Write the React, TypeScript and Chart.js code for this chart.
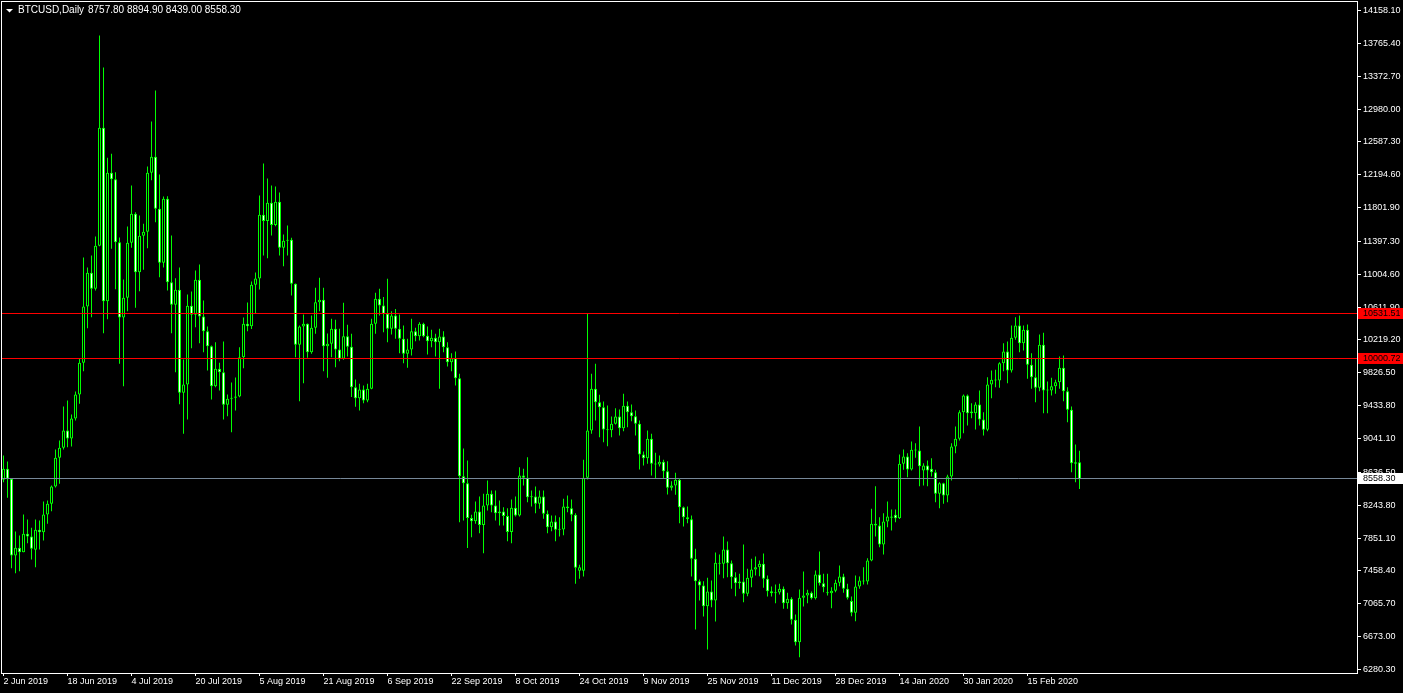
import React, { useEffect, useRef } from "react";
import { Chart, registerables } from "chart.js";

Chart.register(...registerables);

const symbolTitle = "BTCUSD,Daily";

const opens = [
  8548, 8679, 8560, 7643, 7735, 7682, 7902, 7870, 7711, 7950,
  7921, 8133, 8261, 8468, 8811, 8930, 9137, 9041, 9281, 9568,
  9946, 10619, 11023, 10831, 11345, 12756, 10682, 12218, 12142, 11388,
  10488, 10724, 11381, 11727, 11029, 11465, 11513, 12218, 12410, 11788,
  11142, 11907, 10910, 10639, 10819, 9588, 9687, 10627, 10520, 10938,
  10500, 10324, 10145, 9667, 9875, 9834, 9444, 9516, 9528, 9544,
  10013, 10412, 10383, 10879, 10954, 11715, 11643, 11859, 11595, 11871,
  11321, 11405, 11417, 10890, 10162, 10380, 10412, 10073, 10364, 10670,
  10699, 10145, 10174, 10352, 10105, 9994, 10265, 10138, 9655, 9523,
  9627, 9496, 9635, 10412, 10712, 10631, 10532, 10352, 10511, 10352,
  10233, 10054, 10105, 10325, 10264, 10412, 10270, 10205, 10245, 10193,
  10261, 10133, 9954, 10001, 9762, 8591, 8507, 8091, 8053, 8168,
  8007, 8240, 8380, 8240, 8168, 8168, 8115, 7925, 8213, 8121,
  8599, 8571, 8340, 8348, 8260, 8348, 8141, 7981, 8050, 7950,
  7954, 8228, 8208, 8129, 7460, 7460, 8572, 9137, 9635, 9475,
  9416, 9149, 9141, 9217, 9304, 9165, 9432, 9356, 9308, 9217,
  8850, 8806, 9038, 8739, 8730, 8763, 8650, 8452, 8480, 8548,
  8220, 8101, 8077, 7603, 7335, 7284, 7037, 7212, 7105, 7555,
  7544, 7714, 7551, 7383, 7312, 7332, 7185, 7376, 7475, 7503,
  7544, 7364, 7216, 7192, 7200, 7244, 7073, 7125, 6874, 6606,
  7137, 7165, 7197, 7132, 7416, 7312, 7197, 7192, 7221, 7316,
  7392, 7244, 7100, 6958, 7272, 7344, 7332, 7584, 8022, 8001,
  7774, 8049, 8109, 8129, 8088, 8739, 8826, 8671, 8906, 8898,
  8659, 8719, 8680, 8639, 8380, 8507, 8360, 8587, 8946, 9038,
  9356, 9555, 9364, 9344, 9448, 9269, 9145, 9687, 9743, 9735,
  9942, 10082, 9854, 10245, 10392, 10181, 10341, 9923, 9774, 9648,
  10162, 9623, 9615, 9667, 9714, 9887, 9607, 9384, 8740, 8757.8,
];

const highs = [
  8838, 8766, 8561, 7930, 7882, 8133, 8073, 7974, 8073, 8061,
  8288, 8300, 8480, 8910, 9018, 9424, 9496, 9328, 9603, 9994,
  11205, 11086, 11229, 11456, 13859, 13477, 12399, 12447, 12225, 11444,
  10942, 11576, 12065, 11747, 11707, 11608, 12293, 12831, 13202, 12198,
  11935, 11938, 11468, 10958, 11086, 9985, 10762, 10799, 11050, 11122,
  10691, 10380, 10153, 10193, 9946, 10201, 9567, 9711, 9771, 10133,
  10487, 10667, 10918, 11026, 11946, 12329, 12150, 12065, 12053, 11982,
  11480, 11588, 11441, 10893, 10392, 10523, 10415, 10511, 10844, 10962,
  10844, 10297, 10472, 10460, 10352, 10663, 10400, 10293, 9747, 9695,
  9675, 9695, 10472, 10784, 10832, 10734, 10951, 10563, 10591, 10523,
  10392, 10233, 10472, 10364, 10432, 10425, 10380, 10341, 10293, 10352,
  10324, 10193, 10061, 10081, 9815, 8922, 8779, 8129, 8288, 8348,
  8380, 8539, 8420, 8420, 8300, 8220, 8208, 8312, 8348, 8698,
  8679, 8818, 8420, 8468, 8420, 8420, 8181, 8121, 8121, 8101,
  8321, 8360, 8312, 8149, 7531, 8787, 10531.51, 9815, 9934, 9564,
  9484, 9436, 9304, 9404, 9388, 9576, 9484, 9448, 9376, 9257,
  8886, 9137, 9098, 8870, 8838, 8787, 8770, 8531, 8631, 8560,
  8228, 8228, 8121, 7723, 7356, 7334, 7376, 7344, 7679, 7655,
  7870, 7810, 7584, 7443, 7424, 7774, 7484, 7603, 7631, 7584,
  7667, 7404, 7272, 7296, 7304, 7272, 7197, 7144, 6937, 7236,
  7451, 7233, 7213, 7463, 7690, 7424, 7424, 7264, 7352, 7523,
  7424, 7304, 7153, 7404, 7392, 7503, 7610, 8201, 8471, 8101,
  8148, 8288, 8193, 8193, 8850, 8910, 8866, 9006, 8985, 9185,
  8746, 8779, 8806, 8667, 8519, 8512, 8607, 8985, 9185, 9380,
  9567, 9567, 9463, 9475, 9615, 9356, 9774, 9854, 9863, 9954,
  10181, 10201, 10392, 10492, 10511, 10392, 10404, 10061, 9994, 10285,
  10305, 9723, 9767, 9743, 10022, 10034, 9655, 9424, 8970, 8894.9,
];

const lows = [
  8519, 8332, 7491, 7431, 7455, 7680, 7790, 7595, 7503, 7714,
  7822, 8022, 8172, 8456, 8500, 8910, 8937, 8946, 9257, 9456,
  9846, 10360, 10491, 10810, 11340, 10300, 10467, 11309, 10826, 9934,
  9666, 10563, 11321, 10603, 10802, 11058, 11316, 12130, 11628, 10970,
  11086, 10810, 10300, 9834, 9451, 9097, 9269, 10121, 10372, 10181,
  10073, 9854, 9508, 9655, 9615, 9269, 9308, 9116, 9376, 9535,
  9882, 10325, 10349, 10533, 10822, 11229, 11197, 11468, 11580, 11229,
  11101, 11229, 10750, 10013, 9487, 9703, 10006, 10054, 10293, 10563,
  9846, 9767, 10013, 9894, 9965, 9982, 10022, 9536, 9421, 9376,
  9463, 9475, 9630, 10293, 10511, 10312, 10193, 10285, 10233, 10061,
  9942, 9887, 10034, 10205, 10213, 10252, 10046, 10133, 10022, 9635,
  10073, 9902, 9846, 9675, 8041, 8061, 7733, 7862, 8022, 7909,
  7670, 8181, 8160, 8061, 8001, 8001, 7812, 7788, 8109, 8109,
  8479, 8280, 8228, 8148, 8201, 8081, 7909, 7933, 7814, 7870,
  7885, 8160, 8053, 7304, 7364, 7392, 8550, 9098, 9257, 9057,
  8997, 8949, 9057, 9210, 9077, 9129, 9177, 9248, 9077, 8671,
  8719, 8739, 8599, 8560, 8707, 8560, 8372, 8420, 8368, 8029,
  7990, 8029, 7392, 6758, 7105, 6913, 6519, 7025, 6854, 7416,
  7371, 7383, 7244, 7156, 7244, 7085, 7156, 7264, 7404, 7395,
  7256, 7153, 7153, 7073, 7176, 7005, 7005, 6818, 6567, 6427,
  7033, 7073, 7117, 7117, 7284, 7204, 7165, 7013, 7204, 7276,
  7197, 7117, 6917, 6857, 7244, 7296, 7296, 7575, 7870, 7742,
  7655, 7981, 7942, 8041, 8080, 8667, 8579, 8659, 8811, 8471,
  8479, 8471, 8587, 8280, 8208, 8260, 8280, 8539, 8866, 9018,
  9105, 9197, 9284, 9149, 9197, 9077, 9129, 9523, 9655, 9648,
  9846, 9703, 9830, 10221, 10073, 10093, 9755, 9635, 9475, 9607,
  9344, 9344, 9555, 9576, 9635, 9487, 9236, 8639, 8519, 8439.0,
];

const closes = [
  8679, 8560, 7643, 7735, 7682, 7902, 7870, 7723, 7950, 7921,
  8133, 8261, 8468, 8811, 8930, 9137, 9041, 9281, 9568, 9946,
  10619, 11023, 10831, 11345, 12756, 10682, 12218, 12142, 11388, 10488,
  10724, 11381, 11727, 11029, 11465, 11513, 12218, 12410, 11788, 11142,
  11907, 10910, 10639, 10819, 9588, 9687, 10627, 10520, 10938, 10500,
  10324, 10145, 9667, 9875, 9834, 9444, 9516, 9528, 9544, 10013,
  10412, 10383, 10879, 10954, 11715, 11643, 11859, 11595, 11871, 11321,
  11405, 11417, 10890, 10162, 10380, 10412, 10073, 10364, 10670, 10699,
  10145, 10174, 10352, 10105, 9994, 10265, 10138, 9655, 9523, 9627,
  9496, 9635, 10412, 10712, 10631, 10532, 10352, 10511, 10352, 10233,
  10054, 10105, 10325, 10264, 10412, 10264, 10205, 10245, 10193, 10261,
  10133, 9954, 10001, 9762, 8591, 8507, 8091, 8053, 8168, 8007,
  8240, 8380, 8240, 8148, 8148, 8115, 7925, 8213, 8121, 8599,
  8571, 8340, 8348, 8260, 8348, 8141, 7981, 8050, 7950, 7954,
  8228, 8208, 8129, 7496, 7503, 8572, 9137, 9635, 9475, 9416,
  9149, 9141, 9217, 9304, 9165, 9432, 9356, 9308, 9217, 8850,
  8806, 9038, 8739, 8730, 8763, 8650, 8452, 8480, 8548, 8220,
  8101, 8077, 7603, 7335, 7284, 7037, 7212, 7105, 7555, 7544,
  7714, 7551, 7383, 7312, 7332, 7185, 7376, 7475, 7503, 7544,
  7364, 7216, 7192, 7200, 7244, 7073, 7125, 6874, 6606, 7137,
  7165, 7197, 7132, 7416, 7312, 7264, 7192, 7221, 7316, 7392,
  7244, 7137, 6958, 7272, 7344, 7332, 7584, 8022, 8001, 7774,
  8049, 8109, 8093, 8088, 8739, 8826, 8671, 8906, 8898, 8710,
  8719, 8659, 8639, 8380, 8507, 8360, 8587, 8946, 9038, 9356,
  9555, 9344, 9344, 9448, 9269, 9145, 9687, 9743, 9735, 9942,
  10082, 9854, 10245, 10392, 10181, 10341, 9923, 9774, 9648, 10162,
  9615, 9615, 9667, 9714, 9887, 9607, 9384, 8745, 8758, 8558.3,
];

const priceTickValues = [
  14158.1, 13765.4, 13372.7, 12980.0, 12587.3, 12194.6, 11801.9, 11397.3,
  11004.6, 10611.9, 10219.2, 9826.5, 9433.8, 9041.1, 8636.5, 8243.8,
  7851.1, 7458.4, 7065.7, 6673.0, 6280.3,
];

const dateTickBars = [0, 16, 32, 48, 64, 80, 96, 112, 128, 144, 160, 176, 192, 208, 224, 240, 256];
const dateTickLabels = [
  "2 Jun 2019", "18 Jun 2019", "4 Jul 2019", "20 Jul 2019", "5 Aug 2019",
  "21 Aug 2019", "6 Sep 2019", "22 Sep 2019", "8 Oct 2019", "24 Oct 2019",
  "9 Nov 2019", "25 Nov 2019", "11 Dec 2019", "28 Dec 2019", "14 Jan 2020",
  "30 Jan 2020", "15 Feb 2020",
];

const levelPrices = [10531.51, 10000.72];
const bidPrice = 8558.3;

// view window (bars / price) of the chart
const X_MIN = -0.375;
const X_MAX = 338.375;
const Y_MIN = 6237.9;
const Y_MAX = 14259.7;

const FONT_FAMILY = '"Liberation Sans", Arial, sans-serif';

const decorPlugin = {
  id: "mt4decor",
  beforeDraw(chart: any) {
    const ctx = chart.ctx;
    ctx.save();
    ctx.fillStyle = "#000000";
    ctx.fillRect(0, 0, chart.width, chart.height);
    ctx.restore();
  },
  afterDatasetsDraw(chart: any) {
    const ctx = chart.ctx;
    const area = chart.chartArea;
    const ys = chart.scales.y;
    ctx.save();
    ctx.lineWidth = 1;
    const drawH = (p: number, color: string) => {
      const py = Math.floor(ys.getPixelForValue(p)) + 0.5;
      ctx.strokeStyle = color;
      ctx.beginPath();
      ctx.moveTo(area.left, py);
      ctx.lineTo(area.right, py);
      ctx.stroke();
    };
    levelPrices.forEach((p) => drawH(p, "#ff0000"));
    drawH(bidPrice, "#778899");
    ctx.restore();
  },
  afterDraw(chart: any) {
    const ctx = chart.ctx;
    const area = chart.chartArea;
    const ys = chart.scales.y;
    ctx.save();
    // frame
    ctx.strokeStyle = "#ffffff";
    ctx.lineWidth = 1;
    ctx.strokeRect(area.left - 0.5, area.top - 0.5, area.right - area.left + 1, area.bottom - area.top + 1);

    // price labels on the axis
    ctx.font = `9px ${FONT_FAMILY}`;
    ctx.textBaseline = "middle";
    ctx.textAlign = "left";
    const box = (p: number, bg: string, fg: string) => {
      const py = Math.floor(ys.getPixelForValue(p));
      ctx.fillStyle = bg;
      ctx.fillRect(area.right + 1, py - 5, chart.width - area.right - 1, 11);
      ctx.fillStyle = fg;
      ctx.fillText(p.toFixed(2), area.right + 6, py + 0.5);
    };
    levelPrices.forEach((p) => box(p, "#ff0000", "#000000"));
    box(bidPrice, "#ffffff", "#000000");

    // header
    const last = opens.length - 1;
    ctx.fillStyle = "#ffffff";
    ctx.beginPath();
    ctx.moveTo(6, 9);
    ctx.lineTo(13, 9);
    ctx.lineTo(9.5, 12.5);
    ctx.closePath();
    ctx.fill();
    ctx.font = `10px ${FONT_FAMILY}`;
    ctx.fillText(symbolTitle, 18, 10.5);
    const ohlc = [opens[last], highs[last], lows[last], closes[last]].map((v) => v.toFixed(2)).join(" ");
    ctx.fillText(ohlc, 88, 10.5);
    ctx.restore();
  },
};

export default function App() {
  const ref = useRef<HTMLCanvasElement>(null);

  useEffect(() => {
    document.body.style.margin = "0";
    document.body.style.background = "#000000";
    const canvas = ref.current;
    if (!canvas) return;

    const wickData = highs.map((h, i) => ({ x: i, y: [lows[i], h] }));
    const bodyData = opens.map((o, i) => ({ x: i, y: [o, closes[i]] }));
    const bodyFill = opens.map((o, i) => (closes[i] < o ? "#ffffff" : "#000000"));
    const font = { family: FONT_FAMILY, size: 9 };

    const chart = new Chart(canvas, {
      type: "bar",
      data: {
        datasets: [
          {
            label: "wicks",
            data: wickData as any,
            backgroundColor: "#00ff00",
            borderWidth: 0,
            barThickness: 1,
            grouped: false,
            inflateAmount: 0,
            order: 2,
          } as any,
          {
            label: "bodies",
            data: bodyData as any,
            backgroundColor: bodyFill,
            borderColor: "#00ff00",
            borderWidth: 1,
            borderSkipped: false,
            barThickness: 3,
            grouped: false,
            inflateAmount: 0,
            minBarLength: 1,
            order: 1,
          } as any,
        ],
      },
      options: {
        animation: false,
        responsive: false,
        devicePixelRatio: 1,
        events: [],
        layout: { padding: { left: 2, top: 2, right: 0, bottom: 0 } },
        plugins: { legend: { display: false }, tooltip: { enabled: false } },
        scales: {
          x: {
            type: "linear",
            bounds: "data",
            min: X_MIN,
            max: X_MAX,
            offset: false,
            position: "bottom",
            afterBuildTicks: (s: any) => {
              s.ticks = dateTickBars.map((v) => ({ value: v }));
            },
            afterFit: (s: any) => {
              s.height = 20;
              s.paddingLeft = 0;
              s.paddingRight = 0;
              s.paddingTop = 0;
              s.paddingBottom = 0;
            },
            grid: { display: true, drawOnChartArea: false, drawTicks: true, tickLength: 3, color: "#ffffff", offset: false },
            border: { display: false },
            ticks: {
              autoSkip: false,
              maxRotation: 0,
              minRotation: 0,
              align: "start",
              color: "#ffffff",
              padding: 0,
              font,
              callback: (_v: any, i: number) => dateTickLabels[i] ?? "",
            },
          } as any,
          y: {
            type: "linear",
            bounds: "data",
            position: "right",
            min: Y_MIN,
            max: Y_MAX,
            beginAtZero: false,
            afterBuildTicks: (s: any) => {
              s.ticks = priceTickValues.map((v) => ({ value: v }));
            },
            afterFit: (s: any) => {
              s.width = 46;
              s.paddingLeft = 0;
              s.paddingRight = 0;
              s.paddingTop = 0;
              s.paddingBottom = 0;
            },
            grid: { display: true, drawOnChartArea: false, drawTicks: true, tickLength: 4, color: "#ffffff" },
            border: { display: false },
            ticks: {
              autoSkip: false,
              color: "#ffffff",
              padding: 2,
              font,
              callback: (v: any) => Number(v).toFixed(2),
            },
          } as any,
        },
      },
      plugins: [decorPlugin],
    });

    return () => chart.destroy();
  }, []);

  return (
    <div style={{ width: 1403, height: 693, background: "#000000" }}>
      <canvas ref={ref} width={1403} height={693} style={{ display: "block" }} />
    </div>
  );
}
